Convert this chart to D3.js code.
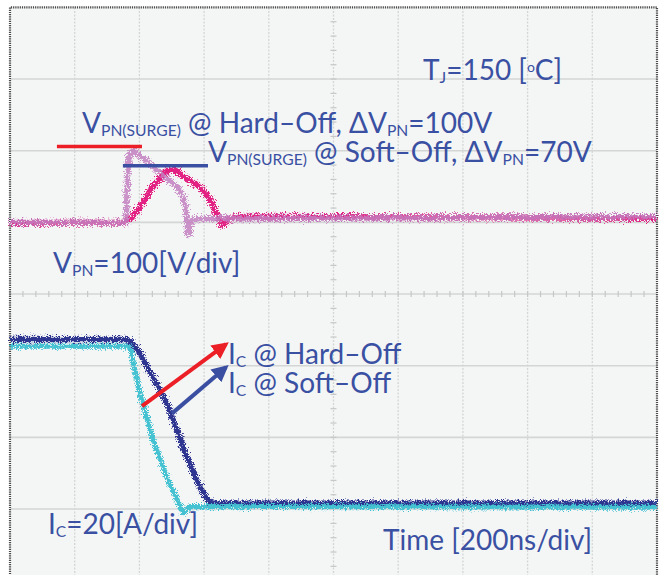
<!DOCTYPE html>
<html>
<head>
<meta charset="utf-8">
<style>
  body { margin: 0; background: #fff; }
  svg { display: block; }
  .lbl { font-family: Lato, "Open Sans", sans-serif; fill: #3a50a2; }
</style>
</head>
<body>
<script src="https://d3js.org/d3.v7.min.js"></script>
<script>
// time in ns (200 ns/div), VPN in volts above pre-turn-off level, IC in amps
var vHardT = [0, 359, 363, 368, 380, 396, 417, 464, 516, 535, 544, 550, 556, 566, 2000];
var vHardV = [0, 0, 60, 94, 101, 95, 88, 69, 50, 36, 18, -17, -7, 5, 8];

var vSoftT = [0, 355, 377, 402, 442, 470, 495, 516, 535, 587, 618, 631, 643, 655, 674, 711, 2000];
var vSoftV = [-1, 0, 7, 22, 50, 65, 75, 72, 64, 50, 33, 20, 8, -5, 4, 8, 6];

var iHardT = [0, 368, 374, 402, 442, 485, 535, 547, 556, 2000];
var iHardI = [45.4, 45.4, 43.7, 32.3, 19.2, 8.8, -1.0, -0.4, 0.7, 0.5];

var iSoftT = [0, 362, 380, 402, 442, 485, 516, 547, 578, 603, 624, 2000];
var iSoftI = [47.3, 47.3, 46.2, 43.4, 36.8, 29.5, 22, 14.4, 8.0, 3.5, 1.6, 1.6];

// surge marker levels [V] and their time spans [ns]
var surgeLevel = [106, 79];
var surgeFrom = [145, 349];
var surgeTo = [408, 612];

// arrows: start/end in (ns, A)
var arrowT0 = [408, 501], arrowI0 = [28.7, 26.7];
var arrowT1 = [668, 668], arrowI1 = [46, 39.6];

var width = 660, height = 575;
var scrL = 10, scrR = 657, scrT = 7.4, scrB = 580.7;

var x = d3.scaleLinear().domain([0, 2000]).range([scrL, scrR]);
var yDiv = d3.scaleLinear().domain([0, 8]).range([scrB, scrT]);
var yV = function(v){ return yDiv(5 + v / 100); };
var yI = function(a){ return yDiv(1 + a / 20); };

var svg = d3.select("body").append("svg")
    .attr("width", width)
    .attr("height", height);

var defs = svg.append("defs");
function noiseFilter(id, freq, amount, seed){
  var f = defs.append("filter").attr("id", id)
      .attr("filterUnits", "userSpaceOnUse")
      .attr("x", 0).attr("y", 0).attr("width", width).attr("height", height);
  f.append("feTurbulence").attr("type", "fractalNoise")
      .attr("baseFrequency", freq).attr("numOctaves", 2).attr("seed", seed).attr("result", "n");
  f.append("feDisplacementMap").attr("in", "SourceGraphic").attr("in2", "n")
      .attr("scale", amount).attr("xChannelSelector", "R").attr("yChannelSelector", "G");
}
noiseFilter("noiseV", "1.6 0.9", 11, 3);
noiseFilter("noiseI", "1.6 0.9", 9, 7);

["red", "blue"].forEach(function(k, i){
  defs.append("marker").attr("id", "arr-" + k)
      .attr("viewBox", "0 0 10 10").attr("refX", 8).attr("refY", 5)
      .attr("markerWidth", 4.2).attr("markerHeight", 4.2)
      .attr("orient", "auto")
    .append("path").attr("d", "M0,0 L10,5 L0,10 z")
      .attr("fill", i == 0 ? "#ec1f27" : "#3a4fa2");
});

// screen
svg.append("rect").attr("x", scrL).attr("y", scrT)
    .attr("width", scrR - scrL).attr("height", scrB - scrT)
    .attr("fill", "#f4f6f6");

// grid
var g = svg.append("g");
d3.range(1, 10).forEach(function(k){
  var xx = x(k * 200);
  g.append("line").attr("x1", xx).attr("x2", xx).attr("y1", scrT).attr("y2", scrB)
      .attr("stroke", "#d4d6d6").attr("stroke-width", 1.3)
      .attr("stroke-dasharray", "2,1.5");
});
d3.range(1, 8).forEach(function(k){
  var yy = yDiv(k);
  g.append("line").attr("x1", scrL).attr("x2", scrR).attr("y1", yy).attr("y2", yy)
      .attr("stroke", "#d4d6d6").attr("stroke-width", 1.6);
});
// minor ticks on centre axes
d3.range(0, 50).forEach(function(k){
  var xx = x(k * 40);
  g.append("line").attr("x1", xx).attr("x2", xx)
      .attr("y1", yDiv(4) - 3).attr("y2", yDiv(4) + 3)
      .attr("stroke", "#c6c8c8").attr("stroke-width", 1.2);
});
d3.range(0, 40).forEach(function(k){
  var yy = yDiv(k * 0.2);
  g.append("line").attr("x1", x(1000) - 3).attr("x2", x(1000) + 3)
      .attr("y1", yy).attr("y2", yy)
      .attr("stroke", "#c6c8c8").attr("stroke-width", 1.2);
});

// frame
svg.append("path")
    .attr("d", "M" + scrL + "," + scrB + "V" + scrT + "H" + scrR + "V" + scrB)
    .attr("fill", "none").attr("stroke", "#4a4a4a")
    .attr("stroke-width", 2.2).attr("stroke-dasharray", "1.2,1");

// traces
function trace(ts, vs, yf, color, w, op, filt){
  var line = d3.line()
      .x(function(d){ return x(d[0]); })
      .y(function(d){ return yf(d[1]); });
  svg.append("path")
      .datum(d3.zip(ts, vs))
      .attr("d", line)
      .attr("fill", "none")
      .attr("stroke", color)
      .attr("stroke-width", w)
      .attr("stroke-linejoin", "round")
      .attr("opacity", op)
      .attr("filter", "url(#" + filt + ")");
}

trace(vSoftT, vSoftV, yV, "#e3197c", 6, 0.95, "noiseV");
trace(vHardT, vHardV, yV, "#c380c0", 5.5, 0.85, "noiseV");
trace(iSoftT, iSoftI, yI, "#2f3590", 5.5, 1, "noiseI");
trace(iHardT, iHardI, yI, "#45c2d2", 5, 1, "noiseI");

// surge markers
var mk = ["#ec1f27", "#3a4fa2"];
surgeLevel.forEach(function(v, i){
  svg.append("line")
      .attr("x1", x(surgeFrom[i])).attr("x2", x(surgeTo[i]))
      .attr("y1", yV(v)).attr("y2", yV(v))
      .attr("stroke", mk[i]).attr("stroke-width", 3.5);
});

// arrows
arrowT0.forEach(function(t, i){
  svg.append("line")
      .attr("x1", x(t)).attr("y1", yI(arrowI0[i]))
      .attr("x2", x(arrowT1[i])).attr("y2", yI(arrowI1[i]))
      .attr("stroke", mk[i]).attr("stroke-width", 4)
      .attr("marker-end", "url(#arr-" + (i == 0 ? "red" : "blue") + ")");
});

// labels: each line is [x, y, parts]; lines of one block share a text element
var fs = 28;
function label(lines){
  var t = svg.append("text").attr("class", "lbl").attr("font-size", fs);
  lines.forEach(function(ln){
    ln[2].forEach(function(p, j){
      var s = t.append("tspan").text(p[0]);
      if (j == 0) s.attr("x", ln[0]).attr("y", ln[1]);
      if (p[1] == "sub") s.attr("font-size", fs * 0.56).attr("dy", 3);
      if (p[1] == "base") s.attr("dy", -3);
      if (p[1] == "sup") s.attr("font-size", fs * 0.5).attr("dy", -8);
      if (p[1] == "sup-back") s.attr("dy", 8);
    });
  });
}
label([[423, 80, [["T"], ["J", "sub"], ["=150 [", "base"], ["o", "sup"], ["C]", "sup-back"]]]]);
label([
  [82, 133, [["V"], ["PN(SURGE)", "sub"], [" @ Hard–Off, ΔV", "base"], ["PN", "sub"], ["=100V", "base"]]],
  [208, 162, [["V"], ["PN(SURGE)", "sub"], [" @ Soft–Off, ΔV", "base"], ["PN", "sub"], ["=70V", "base"]]]
]);
label([[53, 273, [["V"], ["PN", "sub"], ["=100[V/div]", "base"]]]]);
label([
  [228, 364, [["I"], ["C", "sub"], [" @ Hard–Off", "base"]]],
  [228, 393, [["I"], ["C", "sub"], [" @ Soft–Off", "base"]]]
]);
label([[48, 534, [["I"], ["C", "sub"], ["=20[A/div]", "base"]]]]);
label([[383, 550, [["Time [200ns/div]"]]]]);
</script>
</body>
</html>
